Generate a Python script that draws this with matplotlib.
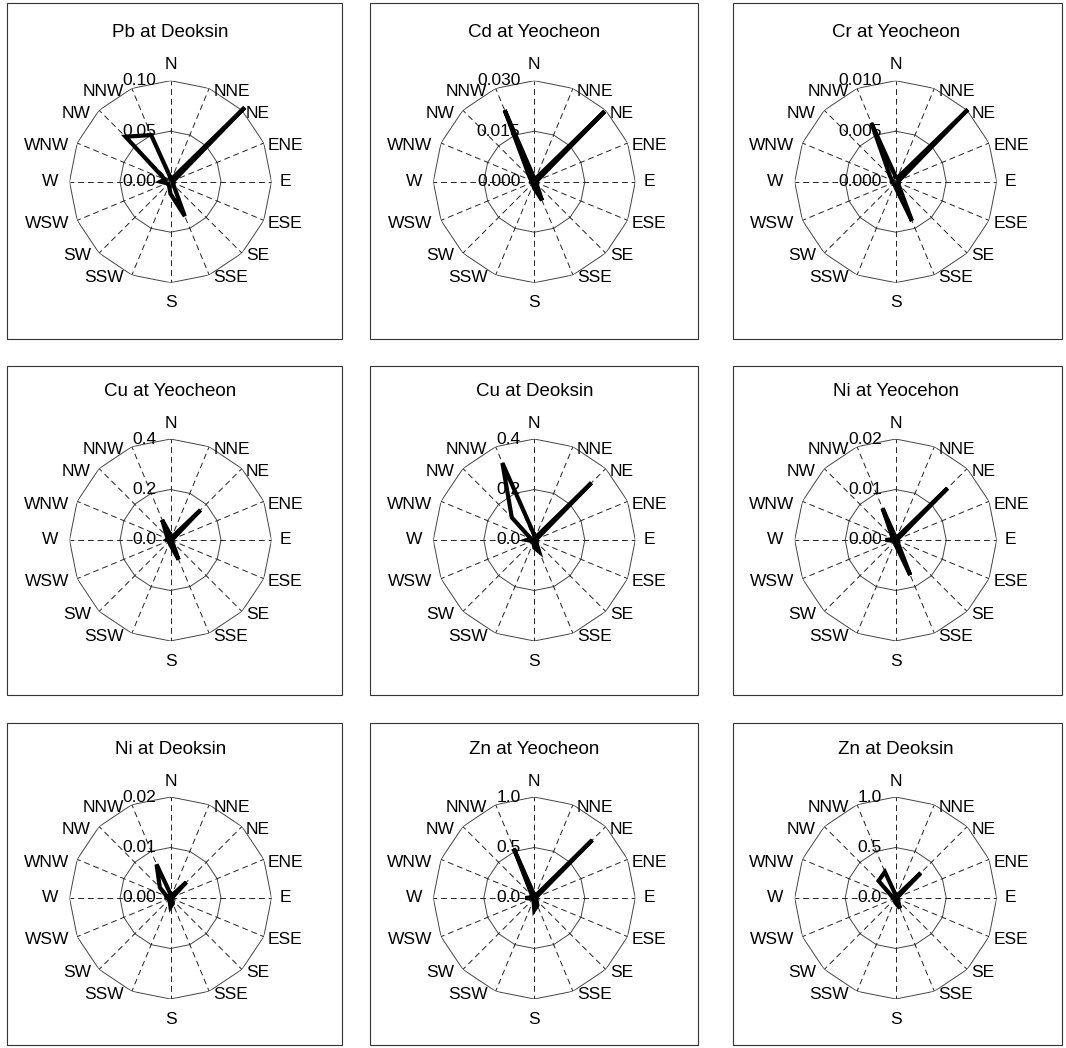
import numpy as np
import matplotlib
matplotlib.use("Agg")
import matplotlib.pyplot as plt
from matplotlib.patches import Rectangle

plt.rcParams['font.family'] = ['Liberation Sans', 'DejaVu Sans']

directions = ["N", "NNE", "NE", "ENE", "E", "ESE", "SE", "SSE",
              "S", "SSW", "SW", "WSW", "W", "WNW", "NW", "NNW"]

titles = ["Pb at Deoksin", "Cd at Yeocheon", "Cr at Yeocheon",
          "Cu at Yeocheon", "Cu at Deoksin", "Ni at Yeocehon",
          "Ni at Deoksin", "Zn at Yeocheon", "Zn at Deoksin"]

pb_deoksin = [0.004, 0.003, 0.104, 0.004, 0.003, 0.003, 0.004, 0.037,
              0.012, 0.004, 0.003, 0.004, 0.010, 0.006, 0.063, 0.050]
cd_yeocheon = [0.001, 0.001, 0.0295, 0.001, 0.0008, 0.0008, 0.001, 0.006,
               0.002, 0.001, 0.0008, 0.0008, 0.001, 0.001, 0.002, 0.023]
cr_yeocheon = [0.0005, 0.0004, 0.0101, 0.0004, 0.0003, 0.0003, 0.0004, 0.0042,
               0.0006, 0.0003, 0.0003, 0.0003, 0.0004, 0.0004, 0.0008, 0.0063]
cu_yeocheon = [0.02, 0.01, 0.168, 0.01, 0.008, 0.008, 0.01, 0.084,
               0.02, 0.01, 0.008, 0.008, 0.015, 0.01, 0.02, 0.086]
cu_deoksin = [0.02, 0.01, 0.32, 0.01, 0.01, 0.01, 0.01, 0.05,
              0.03, 0.01, 0.01, 0.01, 0.03, 0.015, 0.126, 0.33]
ni_yeocheon = [0.0005, 0.0005, 0.0145, 0.0004, 0.0003, 0.0003, 0.0005, 0.0075,
               0.001, 0.0004, 0.0004, 0.0004, 0.002, 0.0005, 0.001, 0.0068]
ni_deoksin = [0.0008, 0.0005, 0.0044, 0.0005, 0.0004, 0.0004, 0.0005, 0.0012,
              0.0018, 0.0005, 0.0004, 0.0004, 0.0008, 0.0008, 0.003, 0.0072]
zn_yeocheon = [0.03, 0.02, 0.81, 0.02, 0.02, 0.02, 0.03, 0.08,
               0.12, 0.02, 0.02, 0.02, 0.09, 0.02, 0.03, 0.53]
zn_deoksin = [0.03, 0.02, 0.35, 0.02, 0.02, 0.02, 0.03, 0.11,
              0.05, 0.02, 0.02, 0.02, 0.03, 0.04, 0.24, 0.28]

series = [pb_deoksin, cd_yeocheon, cr_yeocheon, cu_yeocheon, cu_deoksin,
          ni_yeocheon, ni_deoksin, zn_yeocheon, zn_deoksin]

r_max = [0.10, 0.030, 0.010, 0.4, 0.4, 0.02, 0.02, 1.0, 1.0]
r_labels = [["0.00", "0.05", "0.10"], ["0.000", "0.015", "0.030"],
            ["0.000", "0.005", "0.010"], ["0.0", "0.2", "0.4"],
            ["0.0", "0.2", "0.4"], ["0.00", "0.01", "0.02"],
            ["0.00", "0.01", "0.02"], ["0.0", "0.5", "1.0"],
            ["0.0", "0.5", "1.0"]]

W, H = 1066, 1048
fig = plt.figure(figsize=(W / 100, H / 100), dpi=100)

col_x = [170.5, 534.3, 895.7]
row_y = [181.7, 540.0, 898.0]
box_x = [(7, 342), (370, 698), (733, 1062)]
box_y = [(3, 339), (366, 695), (723, 1045)]
R = 101

theta = np.deg2rad(np.arange(16) * 22.5)
theta_c = np.append(theta, theta[0])

for i in range(9):
    row, col = divmod(i, 3)
    cx, cy = col_x[col], row_y[row]

    # panel frame
    bx0, bx1 = box_x[col]
    by0, by1 = box_y[row]
    fig.patches.append(Rectangle((bx0 / W, 1 - by1 / H), (bx1 - bx0) / W,
                                 (by1 - by0) / H, transform=fig.transFigure,
                                 fill=False, lw=0.8, edgecolor="#333333"))
    fig.text(cx / W, 1 - (cy - 149) / H, titles[i], ha="center", va="center",
             fontsize=13.5)

    ax = fig.add_axes([(cx - R) / W, 1 - (cy + R) / H, 2 * R / W, 2 * R / H],
                      projection="polar")
    ax.set_theta_zero_location("N")
    ax.set_theta_direction(-1)
    rm = r_max[i]
    ax.set_ylim(0, rm)
    ax.grid(False)
    ax.set_xticks([])
    ax.set_yticks([])
    ax.spines["polar"].set_visible(False)
    ax.patch.set_alpha(0)

    # rings and spokes
    for rr in (rm / 2, rm):
        ax.plot(theta_c, [rr] * 17, color="#444444", lw=0.7)
    for t in theta:
        ax.plot([t, t], [0, rm], color="#222222", lw=0.7, ls=(0, (6, 4)))

    vals = list(series[i]) + [series[i][0]]
    ax.plot(theta_c, vals, color="black", lw=3, solid_joinstyle="miter",
            clip_on=False, zorder=5)

    # direction labels
    for t, name in zip(theta, directions):
        s, c = np.sin(t), np.cos(t)
        if abs(s) < 0.1:
            ha = "center"
            if c > 0:
                va, off = "bottom", (0, 6)
            else:
                va, off = "top", (0, -9)
        elif abs(c) < 0.1:
            va = "center"
            ha = "left" if s > 0 else "right"
            off = (6, 0) if s > 0 else (-8, 0)
        else:
            va = "center"
            ha = "left" if s > 0 else "right"
            off = (3, -2) if s > 0 else (-6, -2)
        ax.annotate(name, (t, rm), xytext=off,
                    textcoords="offset points", ha=ha, va=va,
                    fontsize=12.5, annotation_clip=False)

    # radial labels
    for k, lab in enumerate(r_labels[i]):
        ax.annotate(lab, (0, rm * k / 2), xytext=(-10, 0),
                    textcoords="offset points", ha="right", va="center",
                    fontsize=12.5, annotation_clip=False, zorder=6)

fig.savefig("out.png", dpi=100, facecolor="white")
